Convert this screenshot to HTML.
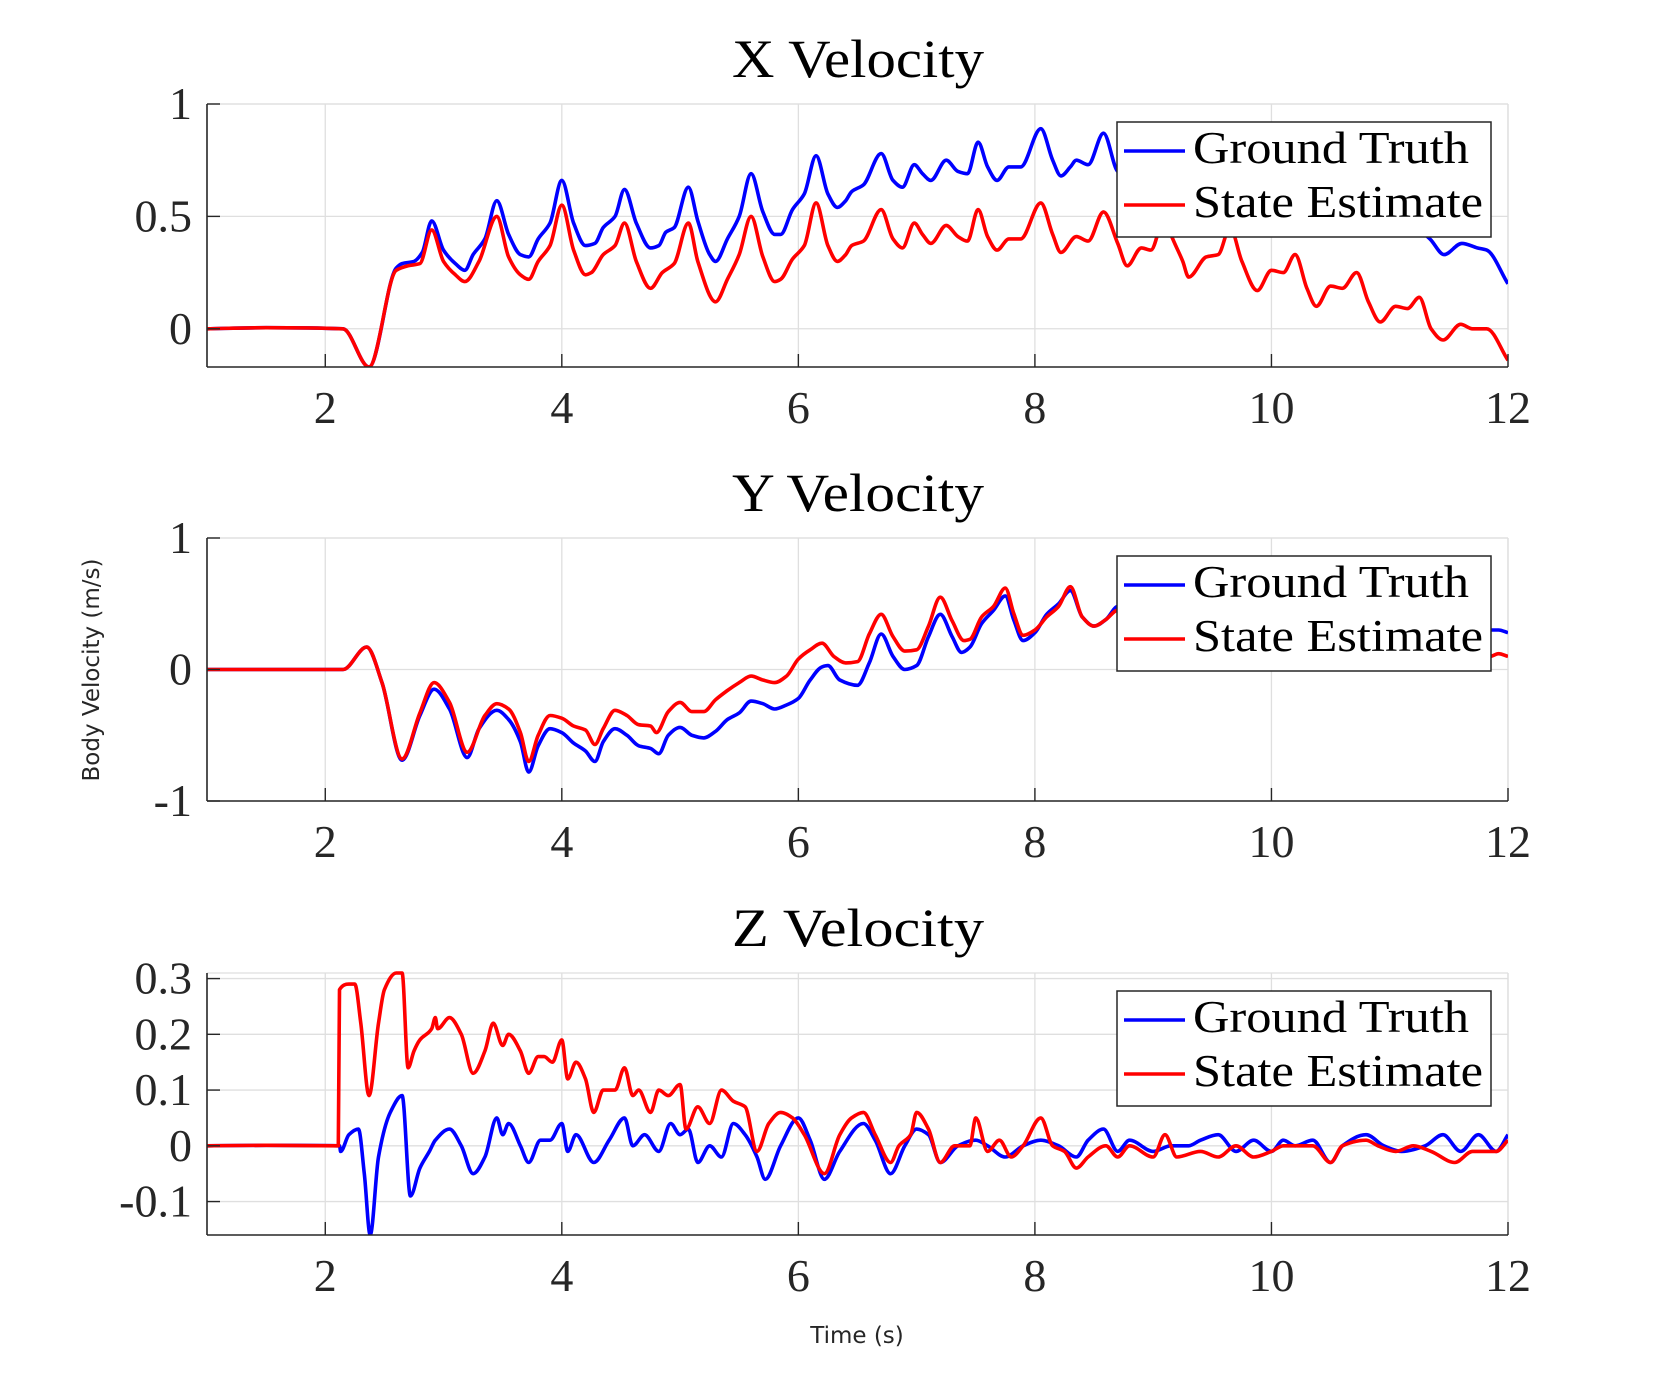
<!DOCTYPE html>
<html><head><meta charset="utf-8"><style>
html,body{margin:0;padding:0;background:#fff;}
svg{display:block;}
</style></head><body>
<svg id="fig" width="1667" height="1389" viewBox="0 0 1667 1389" xmlns="http://www.w3.org/2000/svg">
<rect width="1667" height="1389" fill="#fff"/>
<text x="0" y="0" transform="translate(99,670) rotate(-90)" text-anchor="middle" font-family="DejaVu Sans, sans-serif" font-size="23" fill="#262626">Body Velocity (m/s)</text>
<text x="857" y="1343" text-anchor="middle" font-family="DejaVu Sans, sans-serif" font-size="23" fill="#262626">Time (s)</text>
</svg>
<script>
// ---- data ----
const xTicks = [2,4,6,8,10,12];
const xTickLabels = ['2','4','6','8','10','12'];
const titles = ['X Velocity','Y Velocity','Z Velocity'];
const yTicksX = [0,0.5,1];
const yTickLabelsX = ['0','0.5','1'];
const yTicksY = [-1,0,1];
const yTickLabelsY = ['-1','0','1'];
const yTicksZ = [-0.1,0,0.1,0.2,0.3];
const yTickLabelsZ = ['-0.1','0','0.1','0.2','0.3'];

const tXgt = [1,1.5,2.15,2.37,2.6,2.65,2.75,2.82,2.9,3.0,3.1,3.18,3.25,3.35,3.45,3.55,3.65,3.72,3.8,3.9,4.0,4.1,4.2,4.28,4.35,4.45,4.53,4.63,4.75,4.82,4.88,4.95,5.07,5.15,5.25,5.3,5.4,5.5,5.6,5.7,5.8,5.85,5.95,6.05,6.15,6.25,6.33,6.4,6.45,6.55,6.7,6.8,6.88,6.98,7.05,7.12,7.25,7.35,7.43,7.52,7.6,7.68,7.78,7.88,8.05,8.15,8.22,8.3,8.35,8.45,8.58,8.7,8.85,9.1,9.3,9.6,9.9,10.2,10.5,10.8,11.1,11.34,11.46,11.61,11.74,11.82,12];
const vXgt = [0,0.005,0,-0.17,0.27,0.29,0.3,0.34,0.48,0.35,0.29,0.26,0.33,0.4,0.57,0.42,0.33,0.32,0.4,0.47,0.66,0.47,0.37,0.38,0.45,0.5,0.62,0.47,0.36,0.37,0.43,0.45,0.63,0.48,0.33,0.3,0.4,0.5,0.69,0.52,0.42,0.42,0.53,0.6,0.77,0.6,0.54,0.57,0.61,0.64,0.78,0.66,0.63,0.73,0.69,0.66,0.75,0.7,0.69,0.83,0.72,0.66,0.72,0.72,0.89,0.75,0.68,0.72,0.75,0.73,0.87,0.7,0.66,0.8,0.62,0.75,0.6,0.66,0.55,0.6,0.5,0.4,0.33,0.38,0.36,0.35,0.2];
const tXse = [1,1.5,2.15,2.37,2.6,2.7,2.8,2.9,3.0,3.1,3.18,3.3,3.45,3.55,3.65,3.72,3.8,3.9,4.0,4.1,4.2,4.25,4.35,4.45,4.53,4.63,4.75,4.85,4.95,5.07,5.15,5.3,5.4,5.5,5.6,5.7,5.8,5.85,5.95,6.05,6.15,6.25,6.33,6.4,6.45,6.55,6.7,6.8,6.88,6.98,7.05,7.12,7.25,7.35,7.43,7.52,7.6,7.68,7.78,7.88,8.05,8.15,8.22,8.35,8.45,8.58,8.7,8.78,8.9,8.98,9.1,9.15,9.25,9.3,9.45,9.55,9.65,9.75,9.88,10.0,10.1,10.2,10.3,10.38,10.5,10.6,10.72,10.82,10.92,11.05,11.15,11.25,11.35,11.45,11.6,11.7,11.82,12];
const vXse = [0,0.005,0,-0.17,0.26,0.28,0.29,0.44,0.3,0.24,0.21,0.3,0.5,0.32,0.24,0.22,0.3,0.37,0.55,0.35,0.24,0.25,0.33,0.37,0.47,0.3,0.18,0.25,0.29,0.47,0.3,0.12,0.22,0.33,0.5,0.32,0.21,0.22,0.31,0.37,0.56,0.37,0.3,0.33,0.37,0.39,0.53,0.4,0.36,0.47,0.42,0.38,0.46,0.41,0.39,0.53,0.41,0.35,0.4,0.4,0.56,0.42,0.34,0.41,0.39,0.52,0.38,0.28,0.36,0.35,0.5,0.42,0.3,0.23,0.32,0.33,0.45,0.3,0.17,0.26,0.25,0.33,0.18,0.1,0.19,0.18,0.25,0.12,0.03,0.1,0.09,0.14,0.0,-0.05,0.02,0.0,0.0,-0.14];

const tYgt = [1,2.15,2.35,2.48,2.65,2.8,2.92,3.05,3.2,3.3,3.45,3.55,3.65,3.72,3.8,3.9,4.0,4.1,4.2,4.28,4.35,4.45,4.55,4.65,4.75,4.82,4.9,5.0,5.1,5.2,5.3,5.4,5.5,5.6,5.7,5.8,5.9,6.0,6.1,6.2,6.25,6.35,6.5,6.6,6.7,6.8,6.9,7.0,7.1,7.2,7.3,7.38,7.45,7.55,7.65,7.75,7.82,7.9,8.0,8.1,8.2,8.3,8.4,8.5,8.6,8.7,9.0,9.5,10.0,10.5,11.0,11.5,11.85,11.92,12];
const vYgt = [0,0,0.17,-0.1,-0.69,-0.35,-0.15,-0.3,-0.67,-0.45,-0.31,-0.38,-0.55,-0.78,-0.58,-0.45,-0.48,-0.56,-0.62,-0.7,-0.55,-0.45,-0.5,-0.58,-0.6,-0.64,-0.5,-0.44,-0.5,-0.52,-0.47,-0.38,-0.33,-0.24,-0.26,-0.3,-0.27,-0.22,-0.08,0.02,0.03,-0.08,-0.12,0.05,0.27,0.1,0.0,0.03,0.25,0.42,0.25,0.13,0.17,0.35,0.45,0.56,0.38,0.22,0.28,0.42,0.5,0.6,0.4,0.33,0.38,0.48,0.5,0.55,0.45,0.5,0.4,0.35,0.3,0.3,0.28];
const tYse = [1,2.15,2.35,2.48,2.65,2.8,2.92,3.05,3.2,3.35,3.45,3.55,3.65,3.72,3.8,3.9,4.0,4.1,4.2,4.28,4.35,4.45,4.55,4.65,4.75,4.8,4.9,5.0,5.1,5.2,5.3,5.4,5.5,5.6,5.7,5.8,5.9,6.0,6.1,6.2,6.3,6.4,6.5,6.6,6.7,6.8,6.9,7.0,7.1,7.2,7.3,7.4,7.45,7.55,7.65,7.75,7.82,7.9,8.0,8.1,8.2,8.3,8.4,8.5,8.6,8.7,9.0,9.5,10.0,10.5,11.0,11.5,11.85,11.92,12];
const vYse = [0,0,0.17,-0.1,-0.68,-0.33,-0.1,-0.25,-0.63,-0.35,-0.26,-0.3,-0.48,-0.7,-0.5,-0.35,-0.37,-0.43,-0.46,-0.57,-0.45,-0.31,-0.35,-0.42,-0.43,-0.48,-0.32,-0.25,-0.32,-0.32,-0.23,-0.16,-0.1,-0.05,-0.08,-0.1,-0.05,0.08,0.15,0.2,0.1,0.05,0.06,0.27,0.42,0.25,0.14,0.15,0.33,0.55,0.37,0.22,0.23,0.4,0.48,0.62,0.43,0.26,0.3,0.4,0.48,0.63,0.4,0.33,0.38,0.45,0.4,0.3,0.25,0.2,0.15,0.12,0.1,0.12,0.1];

const tZgt = [1,1.5,2.12,2.13,2.2,2.28,2.33,2.38,2.45,2.55,2.65,2.72,2.8,2.88,2.93,3.05,3.15,3.25,3.35,3.45,3.5,3.55,3.65,3.72,3.82,3.9,4.0,4.05,4.12,4.27,4.4,4.53,4.6,4.7,4.82,4.92,5.0,5.07,5.15,5.25,5.35,5.45,5.55,5.65,5.72,5.85,6.0,6.1,6.22,6.35,6.55,6.65,6.78,6.9,7.0,7.1,7.2,7.35,7.5,7.6,7.75,7.9,8.05,8.2,8.35,8.45,8.58,8.7,8.8,9.0,9.15,9.3,9.4,9.55,9.7,9.85,10.0,10.1,10.2,10.35,10.5,10.6,10.8,10.95,11.1,11.3,11.45,11.6,11.75,11.9,12];
const vZgt = [0,0.001,0,-0.01,0.02,0.03,-0.05,-0.16,-0.02,0.06,0.09,-0.09,-0.04,-0.01,0.01,0.03,0.0,-0.05,-0.02,0.05,0.02,0.04,0.0,-0.03,0.01,0.01,0.04,-0.01,0.02,-0.03,0.01,0.05,0.0,0.02,-0.01,0.04,0.02,0.03,-0.03,0.0,-0.02,0.04,0.02,-0.02,-0.06,0.0,0.05,0.01,-0.06,-0.01,0.04,0.01,-0.05,0.0,0.03,0.02,-0.03,0.0,0.01,0.0,-0.02,0.0,0.01,0.0,-0.02,0.01,0.03,-0.01,0.01,-0.01,0.0,0.0,0.01,0.02,-0.01,0.01,-0.01,0.01,0.0,0.01,-0.03,0.0,0.02,0.0,-0.01,0.0,0.02,-0.01,0.02,-0.01,0.02];
const tZse = [1,1.5,2.11,2.12,2.2,2.25,2.3,2.37,2.45,2.5,2.6,2.65,2.7,2.75,2.8,2.9,2.93,2.95,3.05,3.15,3.25,3.35,3.42,3.5,3.55,3.65,3.72,3.8,3.85,3.92,4.0,4.05,4.12,4.2,4.27,4.35,4.45,4.53,4.6,4.65,4.75,4.82,4.9,5.0,5.05,5.15,5.25,5.35,5.45,5.55,5.65,5.75,5.85,5.95,6.05,6.22,6.35,6.45,6.55,6.65,6.78,6.85,6.95,7.0,7.1,7.2,7.32,7.45,7.5,7.6,7.7,7.8,7.9,8.05,8.15,8.25,8.35,8.45,8.6,8.7,8.8,9.0,9.1,9.2,9.4,9.55,9.7,9.85,10.0,10.1,10.2,10.35,10.5,10.6,10.8,10.9,11.05,11.2,11.35,11.55,11.7,11.9,12];
const vZse = [0,0.001,0,0.28,0.29,0.29,0.22,0.09,0.22,0.28,0.31,0.31,0.14,0.17,0.19,0.21,0.23,0.21,0.23,0.2,0.13,0.17,0.22,0.18,0.2,0.17,0.13,0.16,0.16,0.15,0.19,0.12,0.15,0.12,0.06,0.1,0.1,0.14,0.09,0.1,0.06,0.1,0.09,0.11,0.03,0.07,0.04,0.1,0.08,0.07,-0.01,0.04,0.06,0.05,0.02,-0.05,0.02,0.05,0.06,0.02,-0.03,0.0,0.02,0.06,0.03,-0.03,0.0,0.0,0.05,-0.01,0.01,-0.02,0.0,0.05,0.0,-0.01,-0.04,-0.02,0.0,-0.02,0.0,-0.02,0.02,-0.02,-0.01,-0.02,0.0,-0.02,-0.01,0.0,0.0,0.0,-0.03,0.0,0.01,0.0,-0.01,0.0,-0.01,-0.03,-0.01,-0.01,0.01];

// ---- drawing ----
const NS='http://www.w3.org/2000/svg';
const svg=document.getElementById('fig');
function mk(tag,attrs,parent){const e=document.createElementNS(NS,tag);for(const k in attrs)e.setAttribute(k,attrs[k]);(parent||svg).appendChild(e);return e;}
const L=207,R=1508,XMIN=1,XMAX=12;
function sx(t){return L+(t-XMIN)/(XMAX-XMIN)*(R-L);}
// monotone cubic path (Fritsch-Carlson) through pixel points
function monoPath(px,py){
  const n=px.length;const d=[],m=new Array(n).fill(0);
  for(let i=0;i<n-1;i++){d.push((py[i+1]-py[i])/(px[i+1]-px[i]));}
  m[0]=d[0];m[n-1]=d[n-2];
  for(let i=1;i<n-1;i++){ if(d[i-1]*d[i]<=0) m[i]=0; else { const h0=px[i]-px[i-1],h1=px[i+1]-px[i]; const w1=2*h1+h0,w2=h1+2*h0; m[i]=(w1+w2)/(w1/d[i-1]+w2/d[i]); } }
  let s='M'+px[0].toFixed(1)+','+py[0].toFixed(1);
  for(let i=0;i<n-1;i++){const h=(px[i+1]-px[i])/3;
    s+='C'+(px[i]+h).toFixed(1)+','+(py[i]+m[i]*h).toFixed(1)+' '+(px[i+1]-h).toFixed(1)+','+(py[i+1]-m[i+1]*h).toFixed(1)+' '+px[i+1].toFixed(1)+','+py[i+1].toFixed(1);}
  return s;
}

const panels=[
 {key:'x',top:104,bot:367,ymin:-0.17,ymax:1,yt:yTicksX,yl:yTickLabelsX,title:titles[0],gt:[tXgt,vXgt],se:[tXse,vXse]},
 {key:'y',top:538,bot:801,ymin:-1,ymax:1,yt:yTicksY,yl:yTickLabelsY,title:titles[1],gt:[tYgt,vYgt],se:[tYse,vYse]},
 {key:'z',top:973,bot:1235,ymin:-0.16,ymax:0.31,yt:yTicksZ,yl:yTickLabelsZ,title:titles[2],gt:[tZgt,vZgt],se:[tZse,vZse]}
];
const serif='"Liberation Serif", serif';
panels.forEach(p=>{
  const sy=v=>p.bot-(v-p.ymin)/(p.ymax-p.ymin)*(p.bot-p.top);
  const g=mk('g',{});
  
  
  xTicks.forEach(t=>{const l=mk('line',{x1:sx(t),x2:sx(t),y1:p.top,y2:p.bot,stroke:'#dfdfdf','stroke-width':1.3},g);
    
    });
  p.yt.forEach(v=>{const l=mk('line',{x1:L,x2:R,y1:sy(v),y2:sy(v),stroke:'#dfdfdf','stroke-width':1.3},g);
    
    });
  mk('line',{x1:L,x2:R,y1:p.top,y2:p.top,stroke:'#dfdfdf','stroke-width':1.3},g);
  mk('line',{x1:R,x2:R,y1:p.top,y2:p.bot,stroke:'#dfdfdf','stroke-width':1.3},g);
  const cp=mk('clipPath',{id:'clip-'+p.key},g);
  mk('rect',{x:L,y:p.top-3,width:R-L,height:p.bot-p.top+3},cp);
  [['gt','#0000ff','ground-truth-line'],['se','#ff0000','state-estimate-line']].forEach(([k,c,n])=>{
    const [ts,vs]=p[k];
    const d=monoPath(ts.map(sx),vs.map(sy));
    const path=mk('path',{d:d,fill:'none',stroke:c,'stroke-width':3.6,'stroke-linejoin':'round','clip-path':'url(#clip-'+p.key+')'},g);
    
    
  });
  mk('line',{x1:L,x2:L,y1:p.top,y2:p.bot,stroke:'#262626','stroke-width':1.6},g);
  mk('line',{x1:L,x2:R,y1:p.bot,y2:p.bot,stroke:'#262626','stroke-width':1.6},g);
  xTicks.forEach((t,i)=>{
    mk('line',{x1:sx(t),x2:sx(t),y1:p.bot,y2:p.bot-13,stroke:'#262626','stroke-width':1.4},g);
    const tx=mk('text',{x:sx(t),y:p.bot+56,'text-anchor':'middle','font-family':serif,'font-size':46,fill:'#262626'},g);
    tx.textContent=xTickLabels[i];
    
    
  });
  p.yt.forEach((v,i)=>{
    mk('line',{x1:L,x2:L+13,y1:sy(v),y2:sy(v),stroke:'#262626','stroke-width':1.4},g);
    const tx=mk('text',{x:192,y:sy(v)+15,'text-anchor':'end','font-family':serif,'font-size':46,fill:'#262626'},g);
    tx.textContent=p.yl[i];
    
    
  });
  const ti=mk('text',{x:858,y:p.top-27,'text-anchor':'middle','font-family':serif,'font-size':54,fill:'#000',textLength:252,lengthAdjust:'spacingAndGlyphs'},g);
  ti.textContent=p.title;
  
  
  const lg=mk('g',{},g);
  
  
  const ly=p.top+18;
  mk('rect',{x:1117,y:ly,width:374,height:115,fill:'#fff',stroke:'#262626','stroke-width':1.5},lg);
  [['Ground Truth','#0000ff',41],['State Estimate','#ff0000',95]].forEach(([lab,c,dy])=>{
    const e=mk('g',{},lg);
    
    
    mk('line',{x1:1124,x2:1185,y1:ly+dy-12,y2:ly+dy-12,stroke:c,'stroke-width':3.6},e);
    const tx=mk('text',{x:1193,y:ly+dy,'font-family':serif,'font-size':45,fill:'#000'},e);
    tx.textContent=lab;
    tx.setAttribute('textLength',lab==='State Estimate'?290:276);
    tx.setAttribute('lengthAdjust','spacingAndGlyphs');
  });
});
</script>
</body></html>
